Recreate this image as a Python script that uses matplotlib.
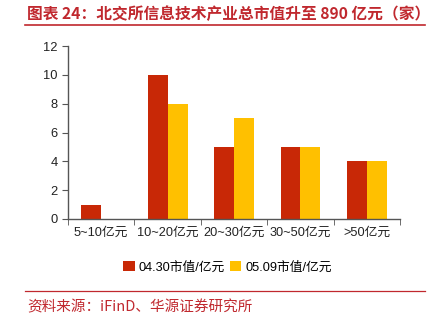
import matplotlib
matplotlib.use("Agg")
import matplotlib.pyplot as plt
import numpy as np
from matplotlib.lines import Line2D

plt.rcParams['font.family'] = ['Noto Sans CJK SC', 'DejaVu Sans']
label_family = ['Liberation Sans', 'Noto Sans CJK SC']

categories = ["5~10亿元", "10~20亿元", "20~30亿元", "30~50亿元", ">50亿元"]
series_names = ["04.30市值/亿元", "05.09市值/亿元"]
vals_0430 = [1, 10, 5, 5, 4]
vals_0509 = [0, 8, 7, 5, 4]
yticks = [0, 2, 4, 6, 8, 10, 12]

red = "#C82806"
yellow = "#FFC000"
title_red = "#C0282E"

fig = plt.figure(figsize=(4.35, 3.22), dpi=100)
ax = fig.add_axes([0.156, 0.32, 0.764, 0.537])

x = np.arange(len(categories))
w = 0.3
ax.bar(x - w / 2, vals_0430, w, color=red, label=series_names[0])
ax.bar(x + w / 2, vals_0509, w, color=yellow, label=series_names[1])

ax.set_xlim(-0.5, len(categories) - 0.5)
ax.set_ylim(0, 12)
ax.set_yticks(yticks)
ax.set_xticks(x)
ax.set_xticklabels(categories, fontsize=9.2, color="#222222", family=label_family)
ax.tick_params(axis="x", length=0, pad=6)
ax.set_xticks(np.arange(len(categories) + 1) - 0.5, minor=True)
ax.tick_params(axis="x", which="minor", length=4, color="#555555", direction="out")
ax.tick_params(axis="y", labelsize=9.3, length=4, color="#555555", labelcolor="#222222")
for lbl in ax.get_yticklabels():
    lbl.set_family(label_family)
for s in ["top", "right"]:
    ax.spines[s].set_visible(False)
for s in ["left", "bottom"]:
    ax.spines[s].set_color("#555555")
    ax.spines[s].set_linewidth(1.0)

ax.legend(loc="upper center", bbox_to_anchor=(0.48, -0.175), ncol=2, frameon=False,
          prop={"family": label_family, "size": 9.2},
          handlelength=0.9, handleheight=0.9, handletextpad=0.3,
          columnspacing=0.4)

fig.text(0.062, 0.958, "图表 24：北交所信息技术产业总市值升至 890 亿元（家）",
         fontsize=11.3, color=title_red, fontweight="bold", va="center", ha="left")
fig.add_artist(Line2D([0.057, 0.978], [0.922, 0.922], color=title_red, lw=1.2,
                      transform=fig.transFigure))
fig.add_artist(Line2D([0.057, 0.978], [0.097, 0.097], color=title_red, lw=0.9,
                      transform=fig.transFigure))
fig.text(0.062, 0.047, "资料来源：iFinD、华源证券研究所", fontsize=10.5,
         color=title_red, va="center", ha="left")

fig.savefig("out.png", dpi=100)
